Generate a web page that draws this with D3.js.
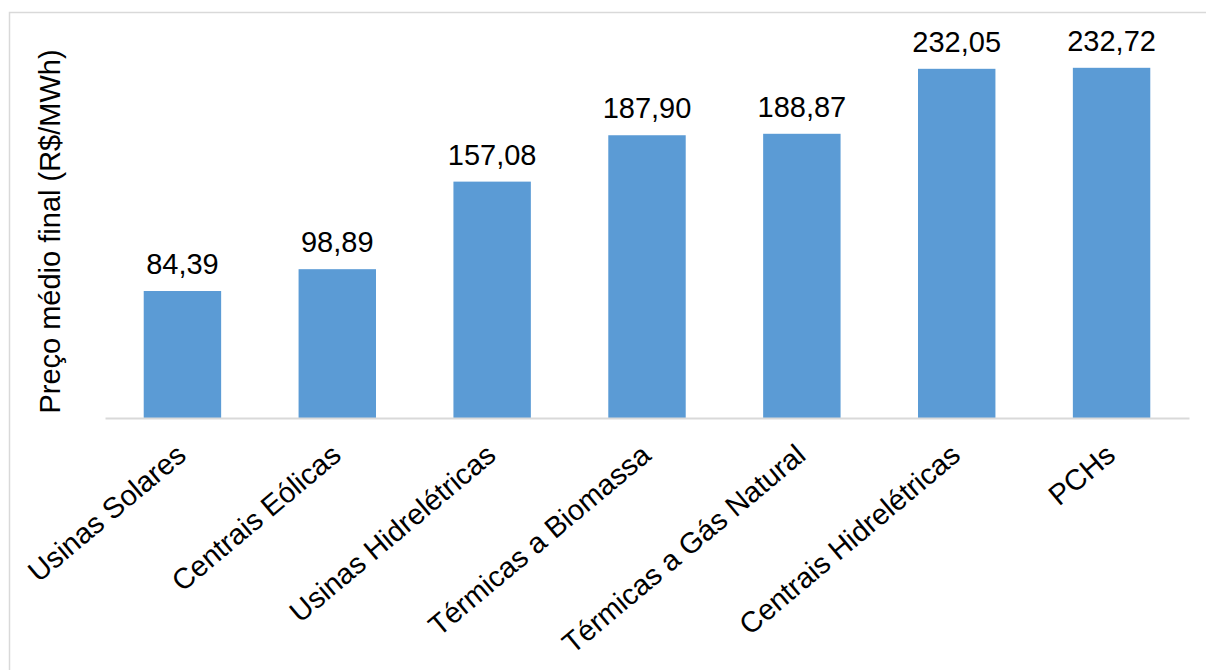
<!DOCTYPE html>
<html>
<head>
<meta charset="utf-8">
<script src="https://cdn.jsdelivr.net/npm/d3@7"></script>
<style>
  html, body { margin: 0; padding: 0; background: #ffffff; }
  svg { display: block; }
  text { font-family: "Liberation Sans", Arial, sans-serif; fill: #000; }
</style>
</head>
<body>
<svg id="chart" width="1206" height="670"></svg>
<script>
const categories = ["Usinas Solares", "Centrais Eólicas", "Usinas Hidrelétricas", "Térmicas a Biomassa", "Térmicas a Gás Natural", "Centrais Hidrelétricas", "PCHs"];
const values = [84.39, 98.89, 157.08, 187.90, 188.87, 232.05, 232.72];
const yTitle = "Preço médio final (R$/MWh)";

const svg = d3.select("#chart");
const W = 1206, H = 670;

// outer chart border
svg.append("rect")
  .attr("x", 9.5).attr("y", 12.5)
  .attr("width", W + 10).attr("height", H + 10)
  .attr("fill", "none").attr("stroke", "#d9d9d9").attr("stroke-width", 1.5);

const plot = { left: 105, right: 1189, bottom: 418 };

const x = d3.scaleBand().domain(categories).range([plot.left, plot.right]).paddingInner(0.5).paddingOuter(0.25);
const y = d3.scaleLinear().domain([0, 250]).range([plot.bottom, plot.bottom - 376.2]);

const fmt = v => d3.format(".2f")(v).replace(".", ",");

// bars
svg.append("g").selectAll("rect").data(values).join("rect")
  .attr("x", (d, i) => x(categories[i]))
  .attr("y", d => y(d))
  .attr("width", x.bandwidth())
  .attr("height", d => y(0) - y(d))
  .attr("fill", "#5B9BD5");

// baseline axis
const xAxis = d3.axisBottom(x).tickSize(0).tickFormat("");
const axG = svg.append("g").attr("transform", `translate(0,${plot.bottom})`).call(xAxis);
axG.select(".domain").attr("stroke", "#d9d9d9").attr("stroke-width", 2);

// value labels
svg.append("g").selectAll("text").data(values).join("text")
  .attr("x", (d, i) => x(categories[i]) + x.bandwidth() / 2)
  .attr("y", d => y(d) - 17)
  .attr("text-anchor", "middle")
  .attr("font-size", 29)
  .text(d => fmt(d));

// category labels rotated
svg.append("g").selectAll("text").data(categories).join("text")
  .attr("transform", d => `translate(${x(d) + x.bandwidth() / 2 + 5.5},${plot.bottom + 40}) rotate(-40)`)
  .attr("text-anchor", "end")
  .attr("font-size", 29)
  .text(d => d);

// y axis title
svg.append("text")
  .attr("transform", `translate(60,${231.5}) rotate(-90)`)
  .attr("text-anchor", "middle")
  .attr("font-size", 29)
  .text(yTitle);
</script>
</body>
</html>
